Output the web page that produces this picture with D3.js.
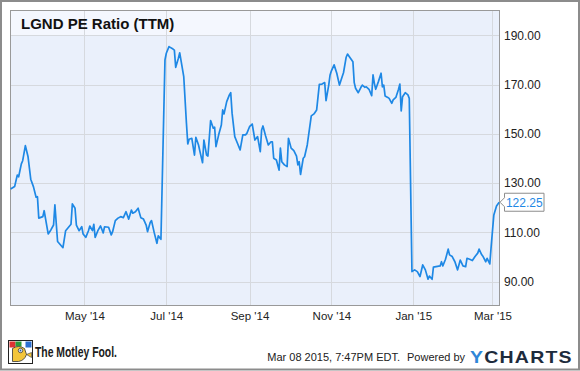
<!DOCTYPE html>
<html>
<head>
<meta charset="utf-8">
<script src="https://cdn.jsdelivr.net/npm/d3@7"></script>
<style>
  body { margin: 0; background: #fff; }
  svg text { font-family: Arial, "Liberation Sans", sans-serif; }
</style>
</head>
<body>
<script>
// LGND PE ratio (TTM)
var dates = [
  "2014-03-07","2014-03-10","2014-03-12","2014-03-13","2014-03-15","2014-03-16","2014-03-18","2014-03-20","2014-03-22","2014-03-24",
  "2014-03-26","2014-03-27","2014-03-28","2014-03-31","2014-04-01","2014-04-04","2014-04-06","2014-04-08","2014-04-09","2014-04-11",
  "2014-04-15","2014-04-17","2014-04-21","2014-04-22","2014-04-24","2014-04-25","2014-04-27","2014-04-29","2014-04-30","2014-05-02",
  "2014-05-04","2014-05-05","2014-05-07","2014-05-08","2014-05-09","2014-05-11","2014-05-13","2014-05-15","2014-05-16","2014-05-19",
  "2014-05-21","2014-05-22","2014-05-24","2014-05-26","2014-05-28","2014-05-30","2014-06-01","2014-06-03","2014-06-05","2014-06-06",
  "2014-06-08","2014-06-10","2014-06-12","2014-06-14","2014-06-16","2014-06-17","2014-06-19","2014-06-20","2014-06-22","2014-06-24",
  "2014-06-25","2014-06-27","2014-06-30","2014-07-01","2014-07-03","2014-07-06","2014-07-07","2014-07-08","2014-07-10","2014-07-11",
  "2014-07-14","2014-07-16","2014-07-17","2014-07-18","2014-07-20","2014-07-22","2014-07-23","2014-07-25","2014-07-26","2014-07-28",
  "2014-07-29","2014-07-31","2014-08-01","2014-08-03","2014-08-05","2014-08-06","2014-08-07","2014-08-09","2014-08-11","2014-08-12",
  "2014-08-13","2014-08-15","2014-08-17","2014-08-18","2014-08-19","2014-08-21","2014-08-23","2014-08-25","2014-08-27","2014-08-29",
  "2014-08-30","2014-09-01","2014-09-03","2014-09-05","2014-09-07","2014-09-09","2014-09-10","2014-09-11","2014-09-13","2014-09-15",
  "2014-09-17","2014-09-18","2014-09-19","2014-09-21","2014-09-23","2014-09-24","2014-09-25","2014-09-27","2014-09-29","2014-09-30",
  "2014-10-02","2014-10-04","2014-10-06","2014-10-07","2014-10-08","2014-10-09","2014-10-11","2014-10-12","2014-10-14","2014-10-17",
  "2014-10-19","2014-10-21","2014-10-23","2014-10-25","2014-10-27","2014-10-28","2014-10-30","2014-10-31","2014-11-01","2014-11-03",
  "2014-11-05","2014-11-07","2014-11-09","2014-11-10","2014-11-12","2014-11-13","2014-11-14","2014-11-17","2014-11-18","2014-11-19",
  "2014-11-21","2014-11-23","2014-11-24","2014-11-26","2014-11-27","2014-11-29","2014-12-01","2014-12-02","2014-12-03","2014-12-04",
  "2014-12-06","2014-12-08","2014-12-09","2014-12-10","2014-12-11","2014-12-13","2014-12-14","2014-12-16","2014-12-17","2014-12-19",
  "2014-12-21","2014-12-22","2014-12-23","2014-12-24","2014-12-26","2014-12-28","2014-12-29","2014-12-31","2015-01-02","2015-01-04",
  "2015-01-06","2015-01-08","2015-01-10","2015-01-12","2015-01-13","2015-01-15","2015-01-16","2015-01-18","2015-01-21","2015-01-22",
  "2015-01-23","2015-01-25","2015-01-27","2015-01-28","2015-01-30","2015-02-01","2015-02-03","2015-02-05","2015-02-07","2015-02-09",
  "2015-02-10","2015-02-12","2015-02-14","2015-02-16","2015-02-18","2015-02-19","2015-02-21","2015-02-22","2015-02-24","2015-02-25",
  "2015-02-27","2015-02-28","2015-03-02","2015-03-04","2015-03-06"
];
var peRatio = [
  127.6,128.6,133.3,132.6,137.8,139.1,145.2,140.7,131.6,128.6,
  124.3,124.5,115.8,116.4,118.8,109.4,111.0,113.0,121.2,106.3,
  103.8,110.7,113.3,121.6,119.8,113.0,110.7,112.3,109.4,108.0,
  110.7,112.6,110.7,113.3,108.0,110.7,112.6,109.8,112.3,112.1,
  109.0,110.3,114.8,115.8,116.4,116.0,118.4,115.4,119.1,117.8,
  118.4,119.8,116.0,115.4,113.0,110.3,114.0,114.8,109.9,105.6,
  108.6,107.2,180.0,182.7,185.4,184.4,184.0,177.0,180.7,182.9,
  173.2,154.3,145.9,147.8,148.2,141.4,148.6,145.5,143.0,138.3,
  147.5,141.4,141.0,155.4,152.3,152.7,144.8,149.6,153.6,159.7,
  158.1,163.1,165.8,166.7,158.4,148.9,146.2,143.5,149.6,149.6,
  150.2,152.9,154.0,147.5,148.9,142.8,151.6,153.2,149.1,145.5,
  146.8,146.8,140.1,139.4,135.3,144.2,138.7,137.4,136.7,148.2,
  144.2,143.2,141.0,137.4,138.7,133.5,140.1,140.7,145.5,157.3,
  158.1,159.7,170.1,170.2,170.8,163.5,169.8,173.9,175.6,178.0,
  174.6,169.8,173.2,174.8,181.1,182.4,181.6,179.3,170.8,168.5,
  166.7,168.9,169.8,168.9,169.1,168.1,165.5,173.9,170.5,168.1,
  171.2,174.6,169.1,169.8,165.4,164.8,164.4,162.4,163.8,164.8,
  168.1,170.2,159.3,165.1,166.7,165.8,164.4,94.1,94.8,94.1,
  92.1,96.8,94.8,91.0,92.3,91.0,95.9,96.1,96.4,98.1,
  96.4,99.1,103.2,100.9,100.2,98.1,94.8,98.8,96.4,96.1,
  99.5,99.1,98.6,100.2,101.6,103.2,100.9,100.2,98.1,99.5,
  97.2,104.2,117.1,120.7,122.25
];
var yTicks = [90, 110, 130, 150, 170, 190];
var xTicks = ["2014-05-01", "2014-07-01", "2014-09-01", "2014-11-01", "2015-01-01", "2015-03-01"];
var domainDates = ["2014-03-07", "2015-03-06"];
var yDomain = [90, 190];

var W = 580, H = 371;
var plot = {left: 10.5, right: 499.5, top: 10.5, bottom: 305.5};

var parseDate = d3.timeParse("%Y-%m-%d");
var data = dates.map(function(d, i) { return {date: parseDate(d), value: peRatio[i]}; });

var x = d3.scaleTime()
    .domain(domainDates.map(parseDate))
    .range([10.6, 499.2]);
var y = d3.scaleLinear()
    .domain(yDomain)
    .range([281.7, 35.3]);

var svg = d3.select("body").append("svg")
    .attr("width", W)
    .attr("height", H);

// outer frame
svg.append("rect")
    .attr("x", 1).attr("y", 1)
    .attr("width", W - 2).attr("height", H - 2.5)
    .attr("fill", "#fff")
    .attr("stroke", "#8c8c8c")
    .attr("stroke-width", 2);

// plot background
svg.append("rect")
    .attr("x", plot.left).attr("y", plot.top)
    .attr("width", plot.right - plot.left).attr("height", plot.bottom - plot.top)
    .attr("fill", "#eaf0fb");
// lighter title band
svg.append("rect")
    .attr("x", plot.left).attr("y", plot.top)
    .attr("width", 380 - plot.left).attr("height", y(190) - plot.top)
    .attr("fill", "#f4f7fe");

// grid
svg.append("g").selectAll("line")
    .data(yTicks)
    .enter().append("line")
    .attr("x1", plot.left).attr("x2", plot.right)
    .attr("y1", function(d) { return Math.round(y(d)) + 0.5; })
    .attr("y2", function(d) { return Math.round(y(d)) + 0.5; })
    .attr("stroke", "#d6d9de");
svg.append("g").selectAll("line")
    .data(xTicks.map(parseDate))
    .enter().append("line")
    .attr("y1", plot.top).attr("y2", plot.bottom)
    .attr("x1", function(d) { return Math.round(x(d)) + 0.5; })
    .attr("x2", function(d) { return Math.round(x(d)) + 0.5; })
    .attr("stroke", "#d6d9de");

// plot border
svg.append("rect")
    .attr("x", plot.left).attr("y", plot.top)
    .attr("width", plot.right - plot.left).attr("height", plot.bottom - plot.top)
    .attr("fill", "none")
    .attr("stroke", "#999");

// title
svg.append("text")
    .attr("x", 21)
    .attr("y", 28.5)
    .attr("font-size", "15px")
    .attr("font-weight", "bold")
    .attr("fill", "#111")
    .text("LGND PE Ratio (TTM)");

// the series
var line = d3.line()
    .x(function(d) { return x(d.date); })
    .y(function(d) { return y(d.value); });
svg.append("path")
    .datum(data)
    .attr("d", line)
    .attr("fill", "none")
    .attr("stroke", "#1e88e5")
    .attr("stroke-width", 1.7)
    .attr("stroke-linejoin", "round");

// y axis on the right
var yAxis = d3.axisRight(y)
    .tickValues(yTicks)
    .tickFormat(d3.format(".2f"))
    .tickSize(0)
    .tickPadding(4.5);
var gy = svg.append("g")
    .attr("transform", "translate(" + plot.right + ",0)")
    .call(yAxis);
gy.select(".domain").remove();
gy.selectAll("text")
    .attr("font-family", "Arial, 'Liberation Sans', sans-serif")
    .attr("font-size", "12px")
    .attr("fill", "#222");

// x axis
var xAxis = d3.axisBottom(x)
    .tickValues(xTicks.map(parseDate))
    .tickFormat(d3.timeFormat("%b '%y"))
    .tickSize(0)
    .tickPadding(6);
var gx = svg.append("g")
    .attr("transform", "translate(0," + plot.bottom + ")")
    .call(xAxis);
gx.select(".domain").remove();
gx.selectAll("text")
    .attr("font-family", "Arial, 'Liberation Sans', sans-serif")
    .attr("font-size", "11.5px")
    .attr("fill", "#222");

// last value flag
var last = data[data.length - 1];
var ly = y(last.value);
var bx = 504.5, bw = 39.5, bh = 18;
svg.append("path")
    .attr("d", "M" + (plot.right + 0.5) + "," + ly +
               "L" + bx + "," + (ly - 4.5) +
               "L" + bx + "," + (ly - bh / 2) +
               "L" + (bx + bw) + "," + (ly - bh / 2) +
               "L" + (bx + bw) + "," + (ly + bh / 2) +
               "L" + bx + "," + (ly + bh / 2) +
               "L" + bx + "," + (ly + 4.5) + "Z")
    .attr("fill", "#fff")
    .attr("stroke", "#8c8c8c");
svg.append("text")
    .attr("x", bx + bw / 2)
    .attr("y", ly + 4.5)
    .attr("text-anchor", "middle")
    .attr("font-size", "12px")
    .attr("fill", "#1e88e5")
    .text(d3.format(".2f")(last.value));

// footer: Motley Fool logo
var logo = svg.append("g").attr("transform", "translate(8.5,340.5)");
logo.append("rect").attr("width", 24).attr("height", 23).attr("fill", "#fff").attr("stroke", "#222");
logo.append("rect").attr("x", 1).attr("y", 1).attr("width", 6).attr("height", 6).attr("fill", "#d33");
logo.append("rect").attr("x", 7).attr("y", 1).attr("width", 6).attr("height", 5).attr("fill", "#2a9a3a");
logo.append("rect").attr("x", 17).attr("y", 1).attr("width", 6).attr("height", 6).attr("fill", "#2b6fd1");
logo.append("path").attr("d", "M4,8 Q10,4 16,8 L18,14 Q16,20 10,21 L4,21 Z").attr("fill", "#f3c53a").attr("stroke", "#333").attr("stroke-width", 0.8);
logo.append("circle").attr("cx", 12).attr("cy", 10).attr("r", 2.2).attr("fill", "#fff").attr("stroke", "#333").attr("stroke-width", 0.8);
logo.append("circle").attr("cx", 12).attr("cy", 10).attr("r", 0.9).attr("fill", "#1a55b0");
logo.append("path").attr("d", "M18,14 L23,12 L23,17 Z").attr("fill", "#f3c53a").attr("stroke", "#333").attr("stroke-width", 0.6);

svg.append("text")
    .attr("x", 35)
    .attr("y", 356.5)
    .attr("font-family", "'Liberation Sans Narrow', Arial, sans-serif")
    .attr("font-size", "14px")
    .attr("font-weight", "bold")
    .attr("fill", "#1a1a1a")
    .attr("textLength", 82)
    .attr("lengthAdjust", "spacingAndGlyphs")
    .text("The Motley Fool.");

// footer: timestamp and YCharts
svg.append("text")
    .attr("x", 400)
    .attr("y", 360.5)
    .attr("text-anchor", "end")
    .attr("font-size", "11px")
    .attr("fill", "#222")
    .text("Mar 08 2015, 7:47PM EDT.");
svg.append("text")
    .attr("x", 407)
    .attr("y", 360.5)
    .attr("font-size", "11px")
    .attr("fill", "#222")
    .text("Powered by");
var yc = svg.append("text")
    .attr("transform", "translate(470,362.5) scale(1.22,1)")
    .attr("font-size", "16px")
    .attr("font-weight", "900")
    .attr("letter-spacing", "1px");
yc.append("tspan").attr("fill", "#2f86d8").text("Y");
yc.append("tspan").attr("fill", "#1d2b3c").text("CHARTS");
</script>
</body>
</html>
